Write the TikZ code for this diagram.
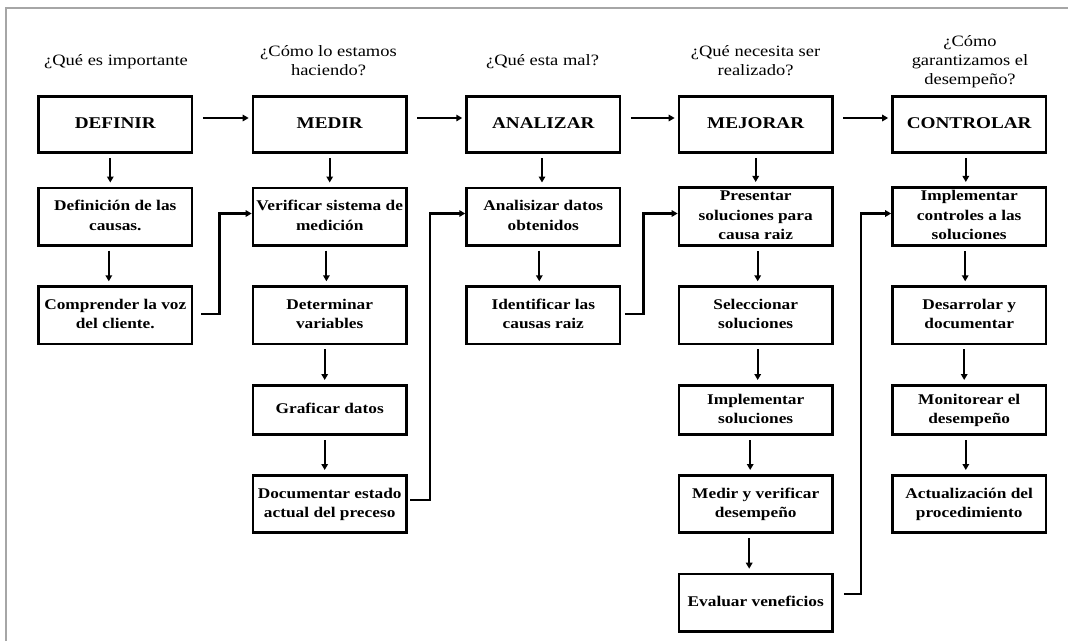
\documentclass[tikz,border=0pt]{standalone}
\usepackage{fontspec}
\setmainfont{Liberation Serif}
\usetikzlibrary{arrows.meta}
% centred, slightly widened multi-line text
\newcommand{\wtext}[1]{\scalebox{1.17}[1]{\begin{tabular}{@{}c@{}}#1\end{tabular}}}
\tikzset{
  stepbox/.style={draw, line width=2.6pt, minimum width=153.5pt, minimum height=57.4pt,
    inner sep=0pt, font=\fontsize{14.8}{19.5}\selectfont\bfseries},
  phase/.style={stepbox, minimum height=56.4pt, font=\fontsize{16.4}{20}\selectfont\bfseries},
  shortbox/.style={stepbox, minimum height=49.4pt},
  ask/.style={inner sep=0pt, font=\fontsize{15.8}{19}\selectfont},
  down/.style={line width=1.9pt, -{Triangle[length=6pt,width=6.5pt]}, shorten <=4pt, shorten >=4pt},
  across/.style={line width=1.9pt, -{Triangle[length=6pt,width=6.5pt]}, shorten <=9.5pt, shorten >=3pt},
  link/.style={line width=2.3pt, -{Triangle[length=6pt,width=6.5pt]}},
}
\begin{document}
\begin{tikzpicture}[x=1pt, y=-1pt]
\useasboundingbox (0,0) rectangle (1068,641);
% page frame
\draw[gray!70, line width=2pt] (6,641) -- (6,8) -- (1068,8);

% questions
\node[ask] (q1) at (116,61.5) {\wtext{¿Qué es importante}};
\node[ask] (q2) at (328.5,62) {\wtext{¿Cómo lo estamos\\haciendo?}};
\node[ask] (q3) at (542.5,61.5) {\wtext{¿Qué esta mal?}};
\node[ask] (q4) at (755.6,62) {\wtext{¿Qué necesita ser\\realizado?}};
\node[ask] (q5) at (970,62) {\wtext{¿Cómo\\garantizamos el\\desempeño?}};

% phases
\node[phase] (def) at (115.3,124.5) {\wtext{DEFINIR}};
\node[phase] (med) at (329.7,124.5) {\wtext{MEDIR}};
\node[phase] (ana) at (543.3,124.5) {\wtext{ANALIZAR}};
\node[phase] (mej) at (755.7,124.5) {\wtext{MEJORAR}};
\node[phase] (con) at (969.2,124.5) {\wtext{CONTROLAR}};

% DEFINIR steps
\node[stepbox] (d1) at (115.3,216.5) {\wtext{Definición de las\\causas.}};
\node[stepbox] (d2) at (115.3,315.3) {\wtext{Comprender la voz\\del cliente.}};
% MEDIR steps
\node[stepbox] (m1) at (329.7,216.5) {\wtext{Verificar sistema de\\medición}};
\node[stepbox] (m2) at (329.7,315.3) {\wtext{Determinar\\variables}};
\node[shortbox] (m3) at (329.7,410) {\wtext{Graficar datos}};
\node[stepbox] (m4) at (329.7,504) {\wtext{Documentar estado\\actual del preceso}};
% ANALIZAR steps
\node[stepbox] (a1) at (543.3,216.5) {\wtext{Analisizar datos\\obtenidos}};
\node[stepbox] (a2) at (543.3,315.3) {\wtext{Identificar las\\causas raiz}};
% MEJORAR steps
\node[stepbox] (j1) at (755.7,216.5) {\wtext{Presentar\\soluciones para\\causa raiz}};
\node[stepbox] (j2) at (755.7,315.3) {\wtext{Seleccionar\\soluciones}};
\node[shortbox] (j3) at (755.7,410) {\wtext{Implementar\\soluciones}};
\node[stepbox] (j4) at (755.7,504) {\wtext{Medir y verificar\\desempeño}};
\node[stepbox] (j5) at (755.7,602.7) {\wtext{Evaluar veneficios}};
% CONTROLAR steps
\node[stepbox] (c1) at (969.2,216.5) {\wtext{Implementar\\controles a las\\soluciones}};
\node[stepbox] (c2) at (969.2,315.3) {\wtext{Desarrolar y\\documentar}};
\node[shortbox] (c3) at (969.2,410) {\wtext{Monitorear el\\desempeño}};
\node[stepbox] (c4) at (969.2,504) {\wtext{Actualización del\\procedimiento}};

% phase sequence
\draw[across] ([yshift=6.5pt]def.east) -- ([yshift=6.5pt]med.west);
\draw[across] ([yshift=6.5pt]med.east) -- ([yshift=6.5pt]ana.west);
\draw[across] ([yshift=6.5pt]ana.east) -- ([yshift=6.5pt]mej.west);
\draw[across] ([yshift=6.5pt]mej.east) -- ([yshift=6.5pt]con.west);

% steps inside each phase
\draw[down] ([xshift=-5pt]def.south) -- ([xshift=-5pt]d1.north);
\draw[down] ([xshift=-6.5pt]d1.south) -- ([xshift=-6.5pt]d2.north);
\draw[down] (med.south) -- (m1.north);
\draw[down] ([xshift=-3.3pt]m1.south) -- ([xshift=-3.3pt]m2.north);
\draw[down] ([xshift=-5pt]m2.south) -- ([xshift=-5pt]m3.north);
\draw[down] ([xshift=-5pt]m3.south) -- ([xshift=-5pt]m4.north);
\draw[down] ([xshift=-1.3pt]ana.south) -- ([xshift=-1.3pt]a1.north);
\draw[down] ([xshift=-4pt]a1.south) -- ([xshift=-4pt]a2.north);
\draw[down] (mej.south) -- (j1.north);
\draw[down] ([xshift=2pt]j1.south) -- ([xshift=2pt]j2.north);
\draw[down] ([xshift=2pt]j2.south) -- ([xshift=2pt]j3.north);
\draw[down] ([xshift=-5.5pt]j3.south) -- ([xshift=-5.5pt]j4.north);
\draw[down] ([xshift=-6.5pt]j4.south) -- ([xshift=-6.5pt]j5.north);
\draw[down] ([xshift=-3.4pt]con.south) -- ([xshift=-3.4pt]c1.north);
\draw[down] ([xshift=-4pt]c1.south) -- ([xshift=-4pt]c2.north);
\draw[down] ([xshift=-5pt]c2.south) -- ([xshift=-5pt]c3.north);
\draw[down] ([xshift=-3.4pt]c3.south) -- ([xshift=-3.4pt]c4.north);

% last step of a phase feeds the first step of the next
\draw[link] ([xshift=8pt,yshift=1pt]d2.east) -- ++(18,0) |- ([yshift=3pt]m1.west);
\draw[link] ([xshift=2.5pt,yshift=4pt]m4.east) -- ++(20,0) |- ([yshift=3pt]a1.west);
\draw[link] ([xshift=3.5pt,yshift=1pt]a2.east) -- ++(18.6,0) |- ([yshift=3pt]j1.west);
\draw[link] ([xshift=10pt,yshift=8.4pt]j5.east) -- ++(17,0) |- ([yshift=3pt]c1.west);
\end{tikzpicture}
\end{document}
